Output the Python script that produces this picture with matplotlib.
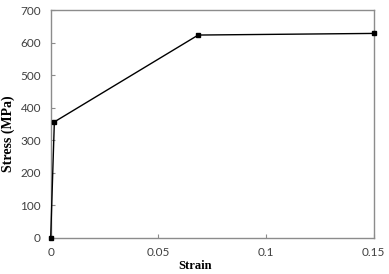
import matplotlib
matplotlib.use("Agg")
import matplotlib.pyplot as plt

# stress-strain points
strain = [0.0, 0.0017, 0.0685, 0.15]
stress = [0, 356, 623, 628]

xticks = [0, 0.05, 0.1, 0.15]
xticklabels = ["0", "0.05", "0.1", "0.15"]
yticks = [0, 100, 200, 300, 400, 500, 600, 700]

fig = plt.figure(figsize=(3.89, 2.74), dpi=100)
ax = fig.add_axes([0.1303, 0.1325, 0.8304, 0.831])

ax.plot(strain, stress, color="black", lw=1.0, marker="s", ms=2.5,
        mfc="black", mec="black", clip_on=False, zorder=3)

ax.set_xlim(0, 0.15)
ax.set_ylim(0, 700)
ax.set_xticks(xticks)
ax.set_xticklabels(xticklabels)
ax.set_yticks(yticks)

for s in ax.spines.values():
    s.set_color("#8c8c8c")
    s.set_linewidth(1.0)

ax.tick_params(direction="in", length=3, width=0.8, color="#8c8c8c",
               labelsize=8.5, labelcolor="#404040")
ax.tick_params(axis="x", pad=7)
ax.tick_params(axis="y", pad=7)
for lab in ax.get_xticklabels() + ax.get_yticklabels():
    lab.set_family("Lato")

ax.set_xlabel("Strain", family="Liberation Serif", fontweight="bold",
              fontsize=9)
ax.set_ylabel("Stress (MPa)", family="Liberation Serif", fontweight="bold",
              fontsize=10)
ax.xaxis.set_label_coords(0.448, -0.100)
ax.yaxis.set_label_coords(-0.112, 0.458)

fig.savefig("out.png", dpi=100)
